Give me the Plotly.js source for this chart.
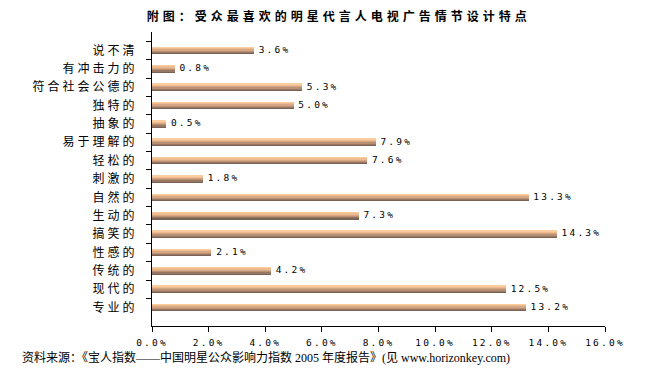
<!DOCTYPE html>
<html>
<head>
<meta charset="utf-8">
<script src="https://cdn.plot.ly/plotly-3.0.1.min.js"></script>
<style>
html,body{margin:0;padding:0;background:#fff;}
#chart{width:649px;height:373px;}
#chart .ytick text{letter-spacing:3px;}
#chart .xtick text{letter-spacing:2.2px;}
#chart .textpoint text{letter-spacing:2.2px;}
#chart .gtitle{letter-spacing:4px;}
</style>
</head>
<body>
<div id="chart"></div>
<script>
const categories = ["说不清","有冲击力的","符合社会公德的","独特的","抽象的","易于理解的","轻松的","刺激的","自然的","生动的","搞笑的","性感的","传统的","现代的","专业的"];
const values = [3.6, 0.8, 5.3, 5.0, 0.5, 7.9, 7.6, 1.8, 13.3, 7.3, 14.3, 2.1, 4.2, 12.5, 13.2];
const valueLabels = ["3.6%","0.8%","5.3%","5.0%","0.5%","7.9%","7.6%","1.8%","13.3%","7.3%","14.3%","2.1%","4.2%","12.5%","13.2%"];
const xTickVals = [0,2,4,6,8,10,12,14,16];
const xTickText = ["0.0%","2.0%","4.0%","6.0%","8.0%","10.0%","12.0%","14.0%","16.0%"];
const titleText = "附图：受众最喜欢的明星代言人电视广告情节设计特点";
const sourceText = "资料来源：《宝人指数——中国明星公众影响力指数 2005 年度报告》(见 www.horizonkey.com)";

const bands = [
  {offset:-0.21, width:0.08, color:"#F9CDA0"},
  {offset:-0.13, width:0.07, color:"#EEBB8F"},
  {offset:-0.06, width:0.07, color:"#D7A683"},
  {offset:0.01, width:0.07, color:"#B89175"},
  {offset:0.08, width:0.07, color:"#977763"},
  {offset:0.15, width:0.06, color:"#7A6254"}
];
const traces = bands.map(b => ({
  type:"bar", orientation:"h", x:values, y:categories,
  offset:b.offset, width:b.width,
  marker:{color:b.color, line:{width:0}},
  hoverinfo:"none", showlegend:false
}));
traces.push({
  type:"scatter", mode:"markers+text", x:values, y:categories, text:valueLabels,
  marker:{size:6, opacity:0, color:"#fff"},
  textposition:"middle right", cliponaxis:false,
  textfont:{family:"DejaVu Sans Mono, monospace", size:9.5, color:"#000"},
  hoverinfo:"none", showlegend:false
});

const layout = {
  width:649, height:373,
  margin:{l:152, r:44, t:32, b:47},
  paper_bgcolor:"#ffffff", plot_bgcolor:"#ffffff",
  barmode:"overlay",
  bargap:0,
  xaxis:{range:[0,16], tickvals:xTickVals, ticktext:xTickText,
    ticks:"outside", ticklen:5, tickcolor:"#000", showline:true, linecolor:"#000", linewidth:1,
    showgrid:false, zeroline:false, fixedrange:true, ticklabelstandoff:3,
    tickfont:{family:"DejaVu Sans Mono, monospace", size:9.5, color:"#000"}},
  yaxis:{type:"category", autorange:"reversed", tickson:"boundaries",
    ticks:"outside", ticklen:5, tickcolor:"#000", showline:true, linecolor:"#000", linewidth:1,
    showgrid:false, zeroline:false, fixedrange:true, ticklabelstandoff:11,
    tickfont:{family:"Noto Sans CJK SC", size:12, color:"#000"}},
  title:{text:"<b>"+titleText+"</b>", x:0.522, xanchor:"center", y:0.954, yanchor:"middle",
    font:{family:"Noto Sans CJK SC", size:12, color:"#000"}},
  annotations:[{
    text:sourceText, xref:"paper", yref:"paper",
    x:(20-152)/453, y:-(358-326)/294, xanchor:"left", yanchor:"middle",
    showarrow:false, font:{family:"Liberation Serif, Noto Sans CJK SC", size:12, color:"#000"}
  }]
};
Plotly.newPlot("chart", traces, layout, {staticPlot:true, displayModeBar:false});
</script>
</body>
</html>
